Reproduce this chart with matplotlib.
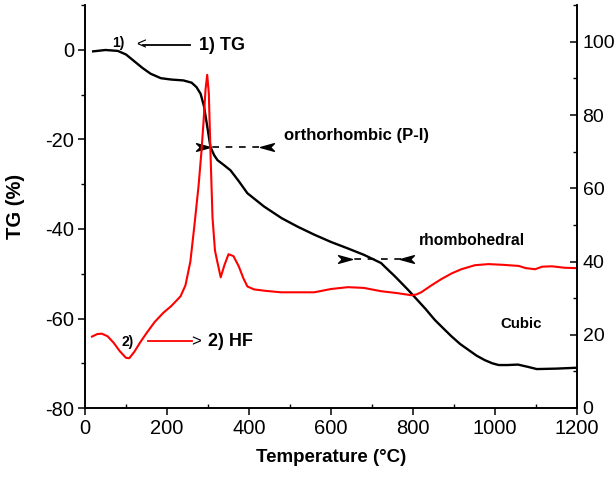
import matplotlib
matplotlib.use("Agg")
import matplotlib.pyplot as plt
from matplotlib.ticker import MultipleLocator
from matplotlib.path import Path

plt.rcParams['font.family'] = ['Liberation Sans', 'DejaVu Sans']
plt.rcParams['axes.unicode_minus'] = False

# TG curve (left axis, %)
T_tg = [20, 50, 80, 100, 120, 140, 160, 185, 210, 240, 260, 272, 282, 290, 298, 306, 315, 323,
        340, 355, 375, 396, 437, 480, 519, 560, 600, 640, 681, 722, 740, 755, 771, 788, 804,
        830, 853, 875, 894, 915, 935, 955, 975, 993, 1009, 1030, 1056, 1080, 1102, 1150, 1200]
tg = [-0.3, 0, -0.2, -1.0, -2.5, -4.0, -5.3, -6.3, -6.6, -6.8, -7.3, -8.3, -9.8, -12.5, -17,
      -21.7, -23.5, -24.6, -25.8, -26.9, -29.3, -32, -35, -37.6, -39.5, -41.3, -42.9, -44.3,
      -45.8, -47.6, -49.2, -50.5, -52, -53.6, -55.2, -57.8, -60.3, -62.3, -64, -65.7, -67,
      -68.3, -69.3, -70, -70.4, -70.4, -70.3, -70.8, -71.3, -71.2, -71.0]

# HF curve (right axis)
T_hf = [17, 30, 41, 55, 70, 85, 100, 108, 120, 135, 151, 170, 191, 210, 233, 245, 257, 267,
        277, 284, 289, 294, 298, 302, 306, 311, 317, 323, 331, 340, 350, 362, 375, 386, 396,
        412, 440, 478, 520, 559, 600, 641, 680, 722, 760, 796, 808, 820, 845, 869, 895, 918,
        951, 984, 1020, 1058, 1075, 1098, 1115, 1139, 1170, 1200]
hf = [19.5, 20.2, 20.3, 19.6, 17.8, 15.5, 13.7, 13.6, 15.3, 18, 20.6, 23.5, 26, 27.8, 30.5,
      33.5, 40, 50, 60.7, 70, 78, 87, 91, 86, 70, 52, 43, 39.8, 35.7, 39, 42, 41.5, 38.7,
      35.5, 33.2, 32.4, 32, 31.6, 31.6, 31.6, 32.5, 33, 32.8, 31.9, 31.4, 30.8, 31, 31.6,
      33.5, 35.2, 36.8, 37.9, 39, 39.3, 39.1, 38.8, 38.2, 37.9, 38.6, 38.7, 38.3, 38.2]

x_ticks = [0, 200, 400, 600, 800, 1000, 1200]
left_ticks = [-80, -60, -40, -20, 0]
right_ticks = [0, 20, 40, 60, 80, 100]

fig = plt.figure(figsize=(6.16, 4.79), dpi=100)
ax = fig.add_axes([85/616, 1 - 408/479, (577 - 85)/616, (408 - 5.25)/479])
ax2 = ax.twinx()

ax.plot(T_tg, tg, color='black', lw=1.7)
ax2.plot(T_hf, hf, color='#ff0000', lw=1.5)

ax.set_xlim(0, 1200)
ax.set_ylim(-80, 10)
ax2.set_ylim(0, 110)

ax.set_xticks(x_ticks)
ax.xaxis.set_minor_locator(MultipleLocator(100))
ax.set_yticks(left_ticks)
ax.yaxis.set_minor_locator(MultipleLocator(10))
ax2.set_yticks(right_ticks)
ax2.yaxis.set_minor_locator(MultipleLocator(10))

for a in (ax, ax2):
    a.spines['top'].set_visible(False)
    for s in a.spines.values():
        s.set_linewidth(1.2)

ax.tick_params(axis='x', which='major', direction='out', length=5, width=1.1, labelsize=14.5, pad=3)
ax.tick_params(axis='x', which='minor', direction='in', length=3, width=1.0)
ax.tick_params(axis='y', which='major', direction='out', length=5, width=1.1, labelsize=14.5, pad=3)
ax.tick_params(axis='y', which='minor', direction='out', length=3, width=1.0)
ax2.tick_params(axis='y', which='major', direction='in', length=5, width=1.1, labelsize=14, pad=4)
ax2.tick_params(axis='y', which='minor', direction='in', length=3, width=1.0)

ax.set_xlabel('Temperature (°C)', fontsize=13.5, fontweight='bold', labelpad=8)
ax.set_ylabel('TG (%)', fontsize=14.5, fontweight='bold', labelpad=14)

# legend-like annotations
ax.text(81, 1.6, '1)', fontsize=10, fontweight='bold', ha='center', va='center')
ax.text(136, 1.1, '<', fontsize=12, ha='center', va='center')
ax.plot([142, 257], [1.1, 1.1], color='black', lw=1.3)
ax.text(277, 1.0, '1) TG', fontsize=13, fontweight='bold', ha='left', va='center')

ax2.text(105, 18.1, '2)', fontsize=10, fontweight='bold', ha='center', va='center')
ax2.plot([154, 262], [18.2, 18.2], color='#ff0000', lw=1.3)
ax2.text(270, 18.2, '>', fontsize=12, ha='center', va='center')
ax2.text(301, 18.1, '2) HF', fontsize=13, fontweight='bold', ha='left', va='center')

# phase arrows
head = Path([(-1, 0.55), (1, 0), (-1, -0.55), (-0.45, 0), (-1, 0.55)],
            [Path.MOVETO, Path.LINETO, Path.LINETO, Path.LINETO, Path.CLOSEPOLY])
head_l = Path([(1, 0.55), (-1, 0), (1, -0.55), (0.45, 0), (1, 0.55)],
              [Path.MOVETO, Path.LINETO, Path.LINETO, Path.LINETO, Path.CLOSEPOLY])

def phase_arrow(x0, x1, y):
    ax.plot([x0, x1], [y, y], color='black', lw=1.2, ls=(0, (4, 4)))
    ax.plot([x0 + 10], [y], marker=head, color='black', ms=10, ls='none')
    ax.plot([x1 - 10], [y], marker=head_l, color='black', ms=10, ls='none')

phase_arrow(277, 453, -21.7)
phase_arrow(624, 796, -46.8)

ax.text(485, -19.2, 'orthorhombic (P-I)', fontsize=12, fontweight='bold', ha='left', va='center')
ax.text(815, -42.5, 'rhombohedral', fontsize=11.3, fontweight='bold', ha='left', va='center')
ax.text(1014, -61.2, 'Cubic', fontsize=10.8, fontweight='bold', ha='left', va='center')

fig.savefig('out.png', dpi=100)
